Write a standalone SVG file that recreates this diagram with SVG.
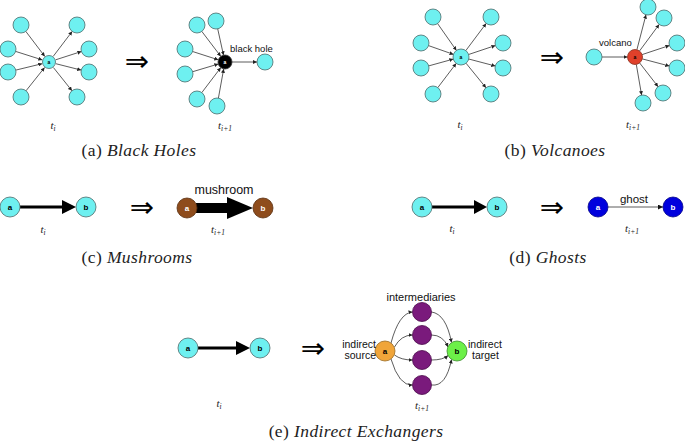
<svg xmlns="http://www.w3.org/2000/svg" width="685" height="444" viewBox="0 0 685 444">
<defs>
<marker id="ah" viewBox="0 0 6 6" refX="6" refY="3" markerWidth="4" markerHeight="4" markerUnits="userSpaceOnUse" orient="auto"><path d="M0,0 L6,3 L0,6 z" fill="#222"/></marker>
<marker id="ah2" viewBox="0 0 6 6" refX="6" refY="3" markerWidth="5" markerHeight="5" markerUnits="userSpaceOnUse" orient="auto"><path d="M0,0 L6,3 L0,6 z" fill="#111"/></marker>
</defs>
<style>
.n{fill:#6ef0f0;stroke:#4d6b6b;stroke-width:0.8}
.e{stroke:#333;stroke-width:0.8;fill:none;marker-end:url(#ah)}
.ec{stroke:#333;stroke-width:0.8;fill:none;marker-end:url(#ah)}
.thick{stroke:#000;stroke-width:3;fill:none}
.lbl{font-family:"Liberation Sans",Arial,sans-serif;font-weight:bold;text-anchor:middle}
.lw{fill:#fff}
.tx{font-family:"Liberation Sans",Arial,sans-serif;fill:#111}
.t{font-family:"Liberation Serif","Times New Roman",serif;font-style:italic;font-size:11px;fill:#222;text-anchor:middle}
.cap{font-family:"Liberation Serif","Times New Roman",serif;font-size:17.5px;fill:#222;text-anchor:middle;letter-spacing:0.4px}
.it{font-style:italic}
.imp{font-family:"DejaVu Sans",sans-serif;font-size:29px;fill:#000;text-anchor:middle}
</style>

<g id="connectors">
<line class="e" x1="25.8" y1="31.4" x2="44.8" y2="56.4"/>
<line class="e" x1="15.6" y1="51.4" x2="42.3" y2="59.9"/>
<line class="e" x1="15.8" y1="70.1" x2="42.2" y2="63.7"/>
<line class="e" x1="26" y1="90.8" x2="44.6" y2="67.5"/>
<line class="e" x1="53.2" y1="56.4" x2="72.2" y2="31.4"/>
<line class="e" x1="55.7" y1="59.8" x2="81.4" y2="51.5"/>
<line class="e" x1="55.8" y1="63.7" x2="81.2" y2="70.1"/>
<line class="e" x1="53.4" y1="67.5" x2="72" y2="90.8"/>
<line class="e" x1="217.7" y1="28.8" x2="223.5" y2="55.2"/>
<line class="e" x1="201.8" y1="31.4" x2="220.8" y2="56.4"/>
<line class="e" x1="192.6" y1="51.5" x2="218.3" y2="59.8"/>
<line class="e" x1="192.7" y1="71.7" x2="218.3" y2="64"/>
<line class="e" x1="201.8" y1="92.6" x2="220.8" y2="67.6"/>
<line class="e" x1="218.4" y1="98.1" x2="223.7" y2="68.9"/>
<line class="e" x1="232" y1="62" x2="257" y2="62"/>
<line class="e" x1="437.6" y1="23.6" x2="456.4" y2="50.4"/>
<line class="e" x1="428.5" y1="45.6" x2="453.5" y2="54.4"/>
<line class="e" x1="428.7" y1="65.9" x2="453.3" y2="59.1"/>
<line class="e" x1="437.8" y1="87.6" x2="456.2" y2="63.4"/>
<line class="e" x1="465.8" y1="50.6" x2="486.2" y2="23.4"/>
<line class="e" x1="468.6" y1="54.5" x2="495.4" y2="45.5"/>
<line class="e" x1="468.7" y1="59" x2="495.3" y2="66"/>
<line class="e" x1="466" y1="63.2" x2="486" y2="87.8"/>
<line class="e" x1="602" y1="57" x2="627.5" y2="57"/>
<line class="e" x1="636.9" y1="49.7" x2="646" y2="14.7"/>
<line class="e" x1="639.5" y1="51" x2="659.2" y2="24.4"/>
<line class="e" x1="642.1" y1="54.6" x2="669.4" y2="45.5"/>
<line class="e" x1="642.3" y1="58.9" x2="669.3" y2="66"/>
<line class="e" x1="639.6" y1="62.9" x2="658.1" y2="86.7"/>
<line class="e" x1="636.3" y1="64.4" x2="641.6" y2="95.1"/>
<line class="thick" x1="20" y1="207" x2="64" y2="207"/>
<polygon points="62,200 76,207 62,214" fill="#000"/>
<line x1="196" y1="208" x2="229" y2="208" stroke="#000" stroke-width="10"/>
<polygon points="227,197 253,208 227,219" fill="#000"/>
<line class="thick" x1="432" y1="207" x2="476" y2="207"/>
<polygon points="474,200 487,207 474,214" fill="#000"/>
<line x1="608" y1="207" x2="663" y2="207" stroke="#333" stroke-width="0.8" marker-end="url(#ah2)"/>
<line class="thick" x1="198" y1="348" x2="238" y2="348"/>
<polygon points="236,341 250,348 236,355" fill="#000"/>
<path class="ec" d="M391,343 Q399,313 412.5,312"/>
<path class="ec" d="M394.5,347 Q401,335 412.5,335"/>
<path class="ec" d="M394.5,355 Q401,360 412.5,360"/>
<path class="ec" d="M391,359 Q399,386 412.5,385"/>
<path class="ec" d="M431.5,312 Q446,314 451.5,342.5"/>
<path class="ec" d="M431.5,335 Q443,335 448,347"/>
<path class="ec" d="M431.5,360 Q443,360 448,355.5"/>
<path class="ec" d="M431.5,385 Q446,387 451.5,359.5"/>
</g>

<g id="a-ti">
<circle class="n" cx="21" cy="25" r="8"/><circle class="n" cx="77" cy="25" r="8"/>
<circle class="n" cx="8" cy="49" r="8"/><circle class="n" cx="89" cy="49" r="8"/>
<circle class="n" cx="8" cy="72" r="8"/><circle class="n" cx="89" cy="72" r="8"/>
<circle class="n" cx="21" cy="97" r="8"/><circle class="n" cx="77" cy="97" r="8"/>
<circle class="n" cx="49" cy="62" r="6.5"/>
<text class="lbl" x="49" y="64" font-size="5">a</text>
<text class="t" x="53" y="129">t<tspan font-size="7.5" dy="2">i</tspan></text>
</g>
<text class="imp" x="137" y="71">⇒</text>
<g id="a-ti1">
<circle class="n" cx="216" cy="21" r="8"/><circle class="n" cx="197" cy="25" r="8"/>
<circle class="n" cx="185" cy="49" r="8"/><circle class="n" cx="185" cy="74" r="8"/>
<circle class="n" cx="197" cy="99" r="8"/><circle class="n" cx="217" cy="106" r="8"/>
<circle class="n" cx="265" cy="62" r="8"/>
<circle cx="225" cy="62" r="7" fill="#000" stroke="#333" stroke-width="0.8"/>
<text class="lbl lw" x="225" y="64" font-size="5">a</text>
<text class="tx" x="230" y="52" font-size="9.5">black hole</text>
<text class="t" x="225" y="129">t<tspan font-size="7.5" dy="2">i+1</tspan></text>
</g>
<text class="cap" x="139" y="156">(a) <tspan class="it">Black Holes</tspan></text>

<g id="b-ti">
<circle class="n" cx="433" cy="17" r="8"/><circle class="n" cx="491" cy="17" r="8"/>
<circle class="n" cx="421" cy="43" r="8"/><circle class="n" cx="503" cy="43" r="8"/>
<circle class="n" cx="421" cy="68" r="8"/><circle class="n" cx="503" cy="68" r="8"/>
<circle class="n" cx="433" cy="94" r="8"/><circle class="n" cx="491" cy="94" r="8"/>
<circle class="n" cx="461" cy="57" r="8"/>
<text class="lbl" x="461" y="59" font-size="5">a</text>
<text class="t" x="460" y="128">t<tspan font-size="7.5" dy="2">i</tspan></text>
</g>
<text class="imp" x="552" y="67">⇒</text>
<g id="b-ti1">
<circle class="n" cx="594" cy="57" r="8"/>
<circle class="n" cx="648" cy="7" r="8"/><circle class="n" cx="664" cy="18" r="8"/>
<circle class="n" cx="677" cy="43" r="8"/><circle class="n" cx="677" cy="68" r="8"/>
<circle class="n" cx="663" cy="93" r="8"/><circle class="n" cx="643" cy="103" r="8"/>
<circle cx="635" cy="57" r="7.5" fill="#e0402a" stroke="#8a3020" stroke-width="0.8"/>
<text class="lbl" x="635" y="59" font-size="5">a</text>
<text class="tx" x="599" y="46" font-size="9.5">volcano</text>
<text class="t" x="633" y="128">t<tspan font-size="7.5" dy="2">i+1</tspan></text>
</g>
<text class="cap" x="555" y="156">(b) <tspan class="it">Volcanoes</tspan></text>

<g id="c-ti">
<circle class="n" cx="10" cy="207" r="10"/><circle class="n" cx="86" cy="207" r="10"/>
<text class="lbl" x="10" y="210" font-size="8">a</text>
<text class="lbl" x="86" y="210" font-size="8">b</text>
<text class="t" x="43" y="233">t<tspan font-size="7.5" dy="2">i</tspan></text>
</g>
<text class="imp" x="142" y="217">⇒</text>
<g id="c-ti1">
<circle cx="187" cy="208" r="10" fill="#8e4c1c" stroke="#5a3010" stroke-width="0.8"/>
<circle cx="263" cy="208" r="10" fill="#8e4c1c" stroke="#5a3010" stroke-width="0.8"/>
<text class="lbl lw" x="187" y="211" font-size="8">a</text>
<text class="lbl lw" x="263" y="211" font-size="8">b</text>
<text class="tx" x="224" y="194" font-size="12.5" text-anchor="middle">mushroom</text>
<text class="t" x="218" y="233">t<tspan font-size="7.5" dy="2">i+1</tspan></text>
</g>
<text class="cap" x="137" y="263">(c) <tspan class="it">Mushrooms</tspan></text>

<g id="d-ti">
<circle class="n" cx="422" cy="207" r="10"/><circle class="n" cx="497" cy="207" r="10"/>
<text class="lbl" x="422" y="210" font-size="8">a</text>
<text class="lbl" x="497" y="210" font-size="8">b</text>
<text class="t" x="452" y="232">t<tspan font-size="7.5" dy="2">i</tspan></text>
</g>
<text class="imp" x="552" y="217">⇒</text>
<g id="d-ti1">
<circle cx="598" cy="207" r="10" fill="#0000dd" stroke="#000088" stroke-width="0.8"/>
<circle cx="673" cy="207" r="10" fill="#0000dd" stroke="#000088" stroke-width="0.8"/>
<text class="lbl lw" x="598" y="210" font-size="8">a</text>
<text class="lbl lw" x="673" y="210" font-size="8">b</text>
<text class="tx" x="634" y="203" font-size="11.5" text-anchor="middle">ghost</text>
<text class="t" x="632" y="232">t<tspan font-size="7.5" dy="2">i+1</tspan></text>
</g>
<text class="cap" x="548" y="263">(d) <tspan class="it">Ghosts</tspan></text>

<g id="e-ti">
<circle class="n" cx="188" cy="348" r="10"/><circle class="n" cx="260" cy="348" r="10"/>
<text class="lbl" x="188" y="351" font-size="8">a</text>
<text class="lbl" x="260" y="351" font-size="8">b</text>
<text class="t" x="219" y="407">t<tspan font-size="7.5" dy="2">i</tspan></text>
</g>
<text class="imp" x="313" y="358">⇒</text>
<g id="e-ti1">
<circle cx="422" cy="312" r="9.5" fill="#7a1a7c" stroke="#4a0a4a" stroke-width="0.8"/>
<circle cx="422" cy="335" r="9.5" fill="#7a1a7c" stroke="#4a0a4a" stroke-width="0.8"/>
<circle cx="422" cy="360" r="9.5" fill="#7a1a7c" stroke="#4a0a4a" stroke-width="0.8"/>
<circle cx="422" cy="385" r="9.5" fill="#7a1a7c" stroke="#4a0a4a" stroke-width="0.8"/>
<circle cx="385" cy="351" r="10" fill="#f0a53a" stroke="#9a6a20" stroke-width="0.8"/>
<circle cx="457" cy="351" r="10" fill="#6cf048" stroke="#3a8a2a" stroke-width="0.8"/>
<text class="lbl" x="385" y="354" font-size="8">a</text>
<text class="lbl" x="457" y="354" font-size="8">b</text>
<text class="tx" x="421" y="301" font-size="11" text-anchor="middle">intermediaries</text>
<text class="tx" x="376" y="348" font-size="10.5" text-anchor="end">indirect</text>
<text class="tx" x="376" y="359" font-size="10.5" text-anchor="end">source</text>
<text class="tx" x="468" y="348" font-size="10.5">indirect</text>
<text class="tx" x="472" y="359" font-size="10.5">target</text>
<text class="t" x="422" y="409">t<tspan font-size="7.5" dy="2">i+1</tspan></text>
</g>
<text class="cap" x="356" y="437">(e) <tspan class="it">Indirect Exchangers</tspan></text>
</svg>
